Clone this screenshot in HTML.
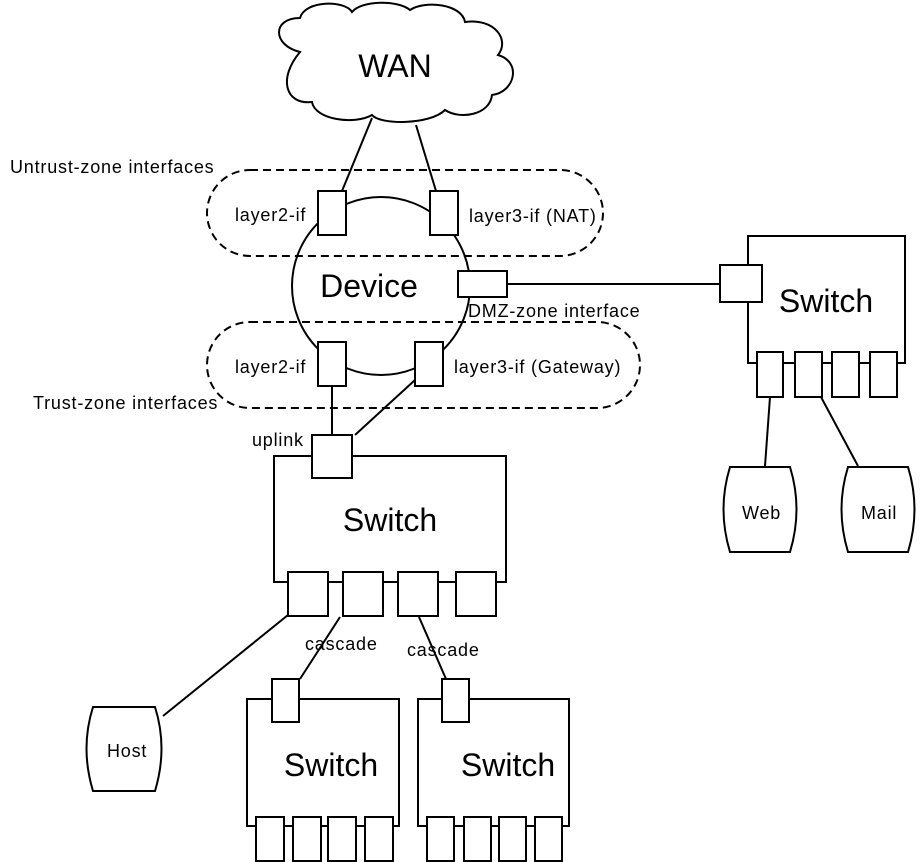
<!DOCTYPE html>
<html><head><style>body{margin:0;background:#fff}svg{display:block}text{font-family:"Liberation Sans",sans-serif;fill:#000}</style></head>
<body>
<svg width="924" height="862" viewBox="0 0 924 862" xmlns="http://www.w3.org/2000/svg">
<g fill="#fff" stroke="#000" stroke-width="2">
<path d="M300,52 C272,45 272,18 300,18 C305,0 345,0 352,12 C362,0 398,0 410,10 C425,0 462,4 465,22 C495,18 510,40 498,55 C522,62 515,92 492,95 C490,115 460,120 445,110 C430,125 380,125 372,115 C355,125 315,120 312,102 C285,105 278,78 300,52 Z"/>
</g>
<text x="395" y="77" font-size="32" text-anchor="middle">WAN</text>
<g stroke="#000" stroke-width="2" fill="none">
<line x1="372" y1="118" x2="342" y2="191"/>
<line x1="416" y1="125" x2="436" y2="191"/>
<rect x="207" y="170" width="396" height="86" rx="43" stroke-dasharray="8,5"/>
<rect x="207" y="322" width="433" height="86" rx="43" stroke-dasharray="8,5"/>
<circle cx="381" cy="286" r="89"/>
<line x1="507" y1="284" x2="720" y2="284"/>
<line x1="332" y1="386" x2="332" y2="435"/>
<line x1="415" y1="380" x2="355" y2="435"/>
<line x1="288" y1="615" x2="163" y2="716"/>
<line x1="340" y1="617" x2="300" y2="679"/>
<line x1="419" y1="617" x2="446" y2="679"/>
<line x1="770" y1="397" x2="765" y2="466"/>
<line x1="821" y1="397" x2="858" y2="466"/>
</g>
<g fill="#fff" stroke="#000" stroke-width="2">
<rect x="318" y="191" width="28" height="44"/>
<rect x="430" y="191" width="28" height="44"/>
<rect x="458" y="271" width="49" height="26"/>
<rect x="318" y="342" width="28" height="44"/>
<rect x="415" y="342" width="28" height="44"/>
<rect x="274" y="456" width="232" height="126"/>
<rect x="312" y="435" width="40" height="43"/>
<rect x="288" y="572" width="40" height="44"/>
<rect x="343" y="572" width="40" height="44"/>
<rect x="398" y="572" width="40" height="44"/>
<rect x="456" y="572" width="40" height="44"/>
<rect x="247" y="699" width="152" height="127"/>
<rect x="272" y="679" width="27" height="43"/>
<rect x="256" y="817" width="28" height="44"/>
<rect x="293" y="817" width="28" height="44"/>
<rect x="328" y="817" width="28" height="44"/>
<rect x="365" y="817" width="28" height="44"/>
<rect x="418" y="699" width="151" height="127"/>
<rect x="442" y="679" width="27" height="43"/>
<rect x="427" y="817" width="27" height="44"/>
<rect x="464" y="817" width="27" height="44"/>
<rect x="499" y="817" width="27" height="44"/>
<rect x="535" y="817" width="27" height="44"/>
<rect x="748" y="236" width="157" height="127"/>
<rect x="720" y="265" width="42" height="37"/>
<rect x="757" y="352" width="26" height="45"/>
<rect x="795" y="352" width="27" height="45"/>
<rect x="832" y="352" width="27" height="45"/>
<rect x="870" y="352" width="27" height="45"/>
<path d="M93,707 L155,707 Q168,748 155,791 L93,791 Q80,748 93,707 Z"/>
<path d="M730,467 L790,467 Q803,509 790,552 L730,552 Q717,509 730,467 Z"/>
<path d="M848,467 L908,467 Q921,509 908,552 L848,552 Q835,509 848,467 Z"/>
</g>
<g font-size="32" text-anchor="middle">
<text x="369" y="297">Device</text>
<text x="390" y="531">Switch</text>
<text x="331" y="776">Switch</text>
<text x="508" y="776">Switch</text>
<text x="826" y="312">Switch</text>
</g>
<g font-size="18" letter-spacing="0.8">
<text x="10" y="173">Untrust-zone interfaces</text>
<text x="33" y="409">Trust-zone interfaces</text>
<text x="235" y="221">layer2-if</text>
<text x="469" y="222">layer3-if (NAT)</text>
<text x="235" y="373">layer2-if</text>
<text x="454" y="373">layer3-if (Gateway)</text>
<text x="468" y="317">DMZ-zone interface</text>
<text x="252" y="446">uplink</text>
<text x="305" y="650">cascade</text>
<text x="407" y="656">cascade</text>
<text x="107" y="757">Host</text>
<text x="742" y="519">Web</text>
<text x="861" y="519">Mail</text>
</g>
</svg>
</body></html>
